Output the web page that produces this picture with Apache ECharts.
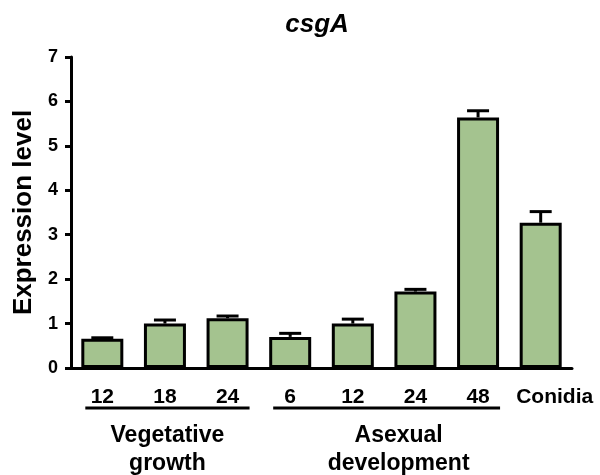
<!DOCTYPE html>
<html>
<head>
<meta charset="utf-8">
<script src="https://cdn.jsdelivr.net/npm/echarts@6/dist/echarts.min.js"></script>
<style>
  html, body { margin: 0; padding: 0; background: #fff; }
  #chart { width: 600px; height: 475px; }
</style>
</head>
<body>
<div id="chart"></div>
<script>
// 数据
const categories = ['12', '18', '24', '6', '12 ', '24 ', '48', 'Conidia']
const expression = [0.66, 1.0, 1.12, 0.70, 1.0, 1.72, 5.64, 3.27]
const errors = [0.02, 0.08, 0.05, 0.08, 0.10, 0.05, 0.15, 0.25]
const yTicks = [0, 1, 2, 3, 4, 5, 6, 7]
// 分组：起止类目下标 + 标题
const groups = [
  { from: 0, to: 2, label: 'Vegetative\ngrowth', shift: 0 },
  { from: 3, to: 6, label: 'Asexual\ndevelopment', shift: 12 }
]

const FONT = 'Liberation Sans, Arial, sans-serif'
const barColor = '#a4c38f'

const chart = echarts.init(document.getElementById('chart'))

const option = {
  animation: false,
  backgroundColor: '#fff',
  title: {
    text: 'csgA',
    left: 312,
    top: 7,
    textAlign: 'center',
    textStyle: {
      fontFamily: FONT,
      fontSize: 26,
      fontWeight: 'bold',
      fontStyle: 'italic',
      color: '#000'
    }
  },
  grid: {
    left: 71,
    right: 28,
    top: 57,
    bottom: 107
  },
  xAxis: {
    type: 'category',
    data: categories,
    axisLine: { lineStyle: { color: '#000', width: 3 } },
    axisTick: {
      alignWithLabel: true,
      length: 7,
      lineStyle: { color: '#000', width: 3 }
    },
    axisLabel: {
      interval: 0,
      margin: 19,
      fontFamily: FONT,
      fontSize: 21,
      fontWeight: 'bold',
      color: '#000',
      formatter: v => v === 'Conidia' ? '{c|' + v + '}' : v.trim(),
      rich: {
        c: {
          fontFamily: FONT,
          fontSize: 21,
          fontWeight: 'bold',
          color: '#000',
          padding: [0, 0, 0, 28]
        }
      }
    }
  },
  yAxis: {
    type: 'value',
    min: yTicks[0],
    max: yTicks[yTicks.length - 1],
    interval: 1,
    name: 'Expression level',
    nameLocation: 'middle',
    nameGap: 33,
    nameTextStyle: {
      fontFamily: FONT,
      fontSize: 26,
      fontWeight: 'bold',
      color: '#000'
    },
    axisLine: { show: true, lineStyle: { color: '#000', width: 3 } },
    axisTick: { show: true, length: 6, lineStyle: { color: '#000', width: 3 } },
    axisLabel: {
      margin: 13,
      fontFamily: FONT,
      fontSize: 18,
      fontWeight: 'bold',
      color: '#000'
    },
    splitLine: { show: false }
  },
  series: [
    {
      type: 'bar',
      data: expression,
      barWidth: 42,
      itemStyle: {
        color: barColor,
        borderColor: '#000',
        borderWidth: 3
      },
      z: 2
    },
    {
      // 误差线（只画向上部分）
      type: 'custom',
      data: expression.map((v, i) => [i, v, v + errors[i]]),
      renderItem: (params, api) => {
        const base = api.coord([api.value(0), api.value(1)])
        const top = api.coord([api.value(0), api.value(2)])
        const half = 11
        return {
          type: 'group',
          children: [
            {
              type: 'line',
              shape: { x1: base[0], y1: base[1], x2: top[0], y2: top[1] },
              style: { stroke: '#000', lineWidth: 3 }
            },
            {
              type: 'line',
              shape: { x1: top[0] - half, y1: top[1], x2: top[0] + half, y2: top[1] },
              style: { stroke: '#000', lineWidth: 3 }
            }
          ]
        }
      },
      z: 1
    }
  ]
}

chart.setOption(option)

// 分组下划线和标题，用坐标轴换算位置
const lineY = 408
const graphic = []
groups.forEach(g => {
  const x1 = chart.convertToPixel({ xAxisIndex: 0 }, g.from) - 17
  const x2 = chart.convertToPixel({ xAxisIndex: 0 }, g.to) + 22
  graphic.push({
    type: 'line',
    shape: { x1: x1, y1: lineY, x2: x2, y2: lineY },
    style: { stroke: '#000', lineWidth: 3 }
  })
  graphic.push({
    type: 'text',
    x: (x1 + x2) / 2 + g.shift,
    y: 422,
    style: {
      text: g.label,
      fontFamily: FONT,
      fontSize: 23,
      fontWeight: 'bold',
      fill: '#000',
      align: 'center',
      verticalAlign: 'top',
      lineHeight: 28
    }
  })
})
chart.setOption({ graphic: graphic })
</script>
</body>
</html>
